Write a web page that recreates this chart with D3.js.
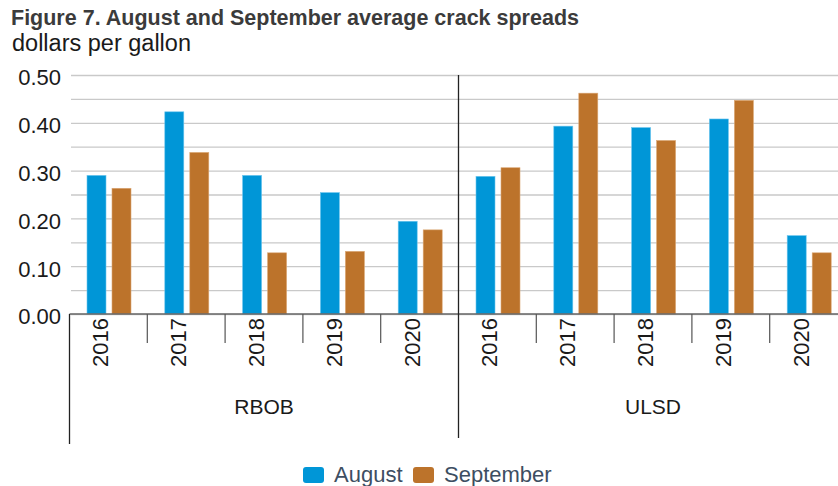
<!DOCTYPE html>
<html>
<head>
<meta charset="utf-8">
<script src="https://cdn.jsdelivr.net/npm/d3@7"></script>
<style>
  body { margin: 0; background: #fff; }
  svg { font-family: "Liberation Sans", Arial, sans-serif; }
</style>
</head>
<body>
<div id="chart"></div>
<script>
// chart data
var products = ["RBOB", "ULSD"];
var years = ["2016", "2017", "2018", "2019", "2020"];
var seriesNames = ["August", "September"];
var august = [0.290, 0.423, 0.290, 0.254, 0.194, 0.288, 0.393, 0.390, 0.408, 0.164];
var september = [0.263, 0.338, 0.128, 0.131, 0.176, 0.306, 0.462, 0.363, 0.447, 0.128];
var yTicks = [0.00, 0.10, 0.20, 0.30, 0.40, 0.50];
var gridTicks = [0.00, 0.05, 0.10, 0.15, 0.20, 0.25, 0.30, 0.35, 0.40, 0.45, 0.50];
var colors = ["#0096d7", "#bc732b"];

var svgWidth = 838;
var svgHeight = 486;
var plotLeft = 69.5, plotRight = 847.5, plotTop = 75, plotBottom = 314;

var svg = d3.select("#chart")
  .append("svg")
  .attr("width", svgWidth)
  .attr("height", svgHeight);

// rows: one per product/year
var rows = [];
products.forEach(function(p, pi) {
  years.forEach(function(y, yi) {
    var i = pi * years.length + yi;
    rows.push({ key: p + "-" + y, product: p, year: y, values: [august[i], september[i]] });
  });
});

var x0 = d3.scaleBand().domain(rows.map(function(d) { return d.key; })).range([plotLeft, plotRight]);
var x1 = d3.scaleBand().domain(seriesNames).range([17.5, 61.5]).paddingInner(0.24);
var yScale = d3.scaleLinear().domain([0, 0.5]).range([plotBottom, plotTop]);

// title
svg.append("text")
  .attr("x", 11).attr("y", 25)
  .style("font-size", "21.5px").style("font-weight", "bold").style("fill", "#3b3b3b")
  .text("Figure 7. August and September average crack spreads");

svg.append("text")
  .attr("x", 12).attr("y", 51)
  .style("font-size", "23.5px").style("fill", "#1a1a1a")
  .text("dollars per gallon");

// gridlines
var grid = svg.append("g")
  .attr("transform", "translate(" + (plotLeft + 1.5) + ",0)")
  .call(d3.axisLeft(yScale).tickValues(gridTicks).tickSize(-(plotRight - plotLeft)).tickFormat(""));
grid.select(".domain").remove();
grid.selectAll("line").attr("stroke", "#c9c9c9").attr("stroke-width", 1.3);

// y axis labels
var yAxis = svg.append("g")
  .attr("transform", "translate(61,0)")
  .call(d3.axisLeft(yScale).tickValues(yTicks).tickSize(0).tickPadding(0).tickFormat(d3.format(".2f")));
yAxis.select(".domain").remove();
yAxis.selectAll("text")
  .attr("dy", "0.45em")
  .style("font-size", "22px").style("fill", "#1a1a1a")
  .style("font-family", "'Liberation Sans', Arial, sans-serif");

// bars
var groups = svg.selectAll("g.cat")
  .data(rows)
  .enter()
  .append("g")
  .attr("class", "cat")
  .attr("transform", function(d) { return "translate(" + x0(d.key) + ",0)"; });

groups.selectAll("rect")
  .data(function(d) { return d.values.map(function(v, i) { return { name: seriesNames[i], value: v, i: i }; }); })
  .enter()
  .append("rect")
  .attr("x", function(d) { return x1(d.name); })
  .attr("width", x1.bandwidth())
  .attr("y", function(d) { return yScale(d.value); })
  .attr("height", function(d) { return plotBottom - yScale(d.value); })
  .attr("fill", function(d) { return colors[d.i]; })
  .attr("stroke", function(d) { return d.i === 0 ? "#6cc6ee" : "#dba775"; })
  .attr("stroke-width", 0.6);

// baseline
svg.append("line")
  .attr("x1", plotLeft).attr("x2", plotRight)
  .attr("y1", plotBottom).attr("y2", plotBottom)
  .attr("stroke", "#666").attr("stroke-width", 1.3);

// category dividers
rows.forEach(function(d, i) {
  if (i % years.length !== 0) {
    svg.append("line")
      .attr("x1", x0(d.key)).attr("x2", x0(d.key))
      .attr("y1", plotBottom).attr("y2", 343)
      .attr("stroke", "#555").attr("stroke-width", 1.2);
  }
});

// year labels
groups.append("text")
  .attr("transform", function() { return "translate(" + (x0.bandwidth() / 2) + ",318) rotate(-90)"; })
  .style("text-anchor", "end")
  .style("font-size", "22px").style("fill", "#1a1a1a")
  .text(function(d) { return d.year; });

// product group lines and labels
var groupWidth = x0.bandwidth() * years.length;
products.forEach(function(p, pi) {
  var gx = x0(p + "-" + years[0]);
  svg.append("line")
    .attr("x1", gx).attr("x2", gx)
    .attr("y1", pi === 0 ? plotBottom : plotTop)
    .attr("y2", pi === 0 ? 444 : 438)
    .attr("stroke", "#222").attr("stroke-width", 1.3);
  svg.append("text")
    .attr("x", gx + groupWidth / 2).attr("y", 414)
    .style("text-anchor", "middle")
    .style("font-size", "21px").style("fill", "#1a1a1a")
    .text(p);
});

// legend
var legend = svg.append("g").attr("transform", "translate(303,467)");
var lx = [0, 110];
seriesNames.forEach(function(name, i) {
  legend.append("rect")
    .attr("x", lx[i]).attr("y", 0)
    .attr("width", 21).attr("height", 16)
    .attr("rx", 3)
    .attr("fill", colors[i]);
  legend.append("text")
    .attr("x", lx[i] + 31).attr("y", 15)
    .style("font-size", "22px").style("fill", "#3d4e62")
    .text(name);
});
</script>
</body>
</html>
